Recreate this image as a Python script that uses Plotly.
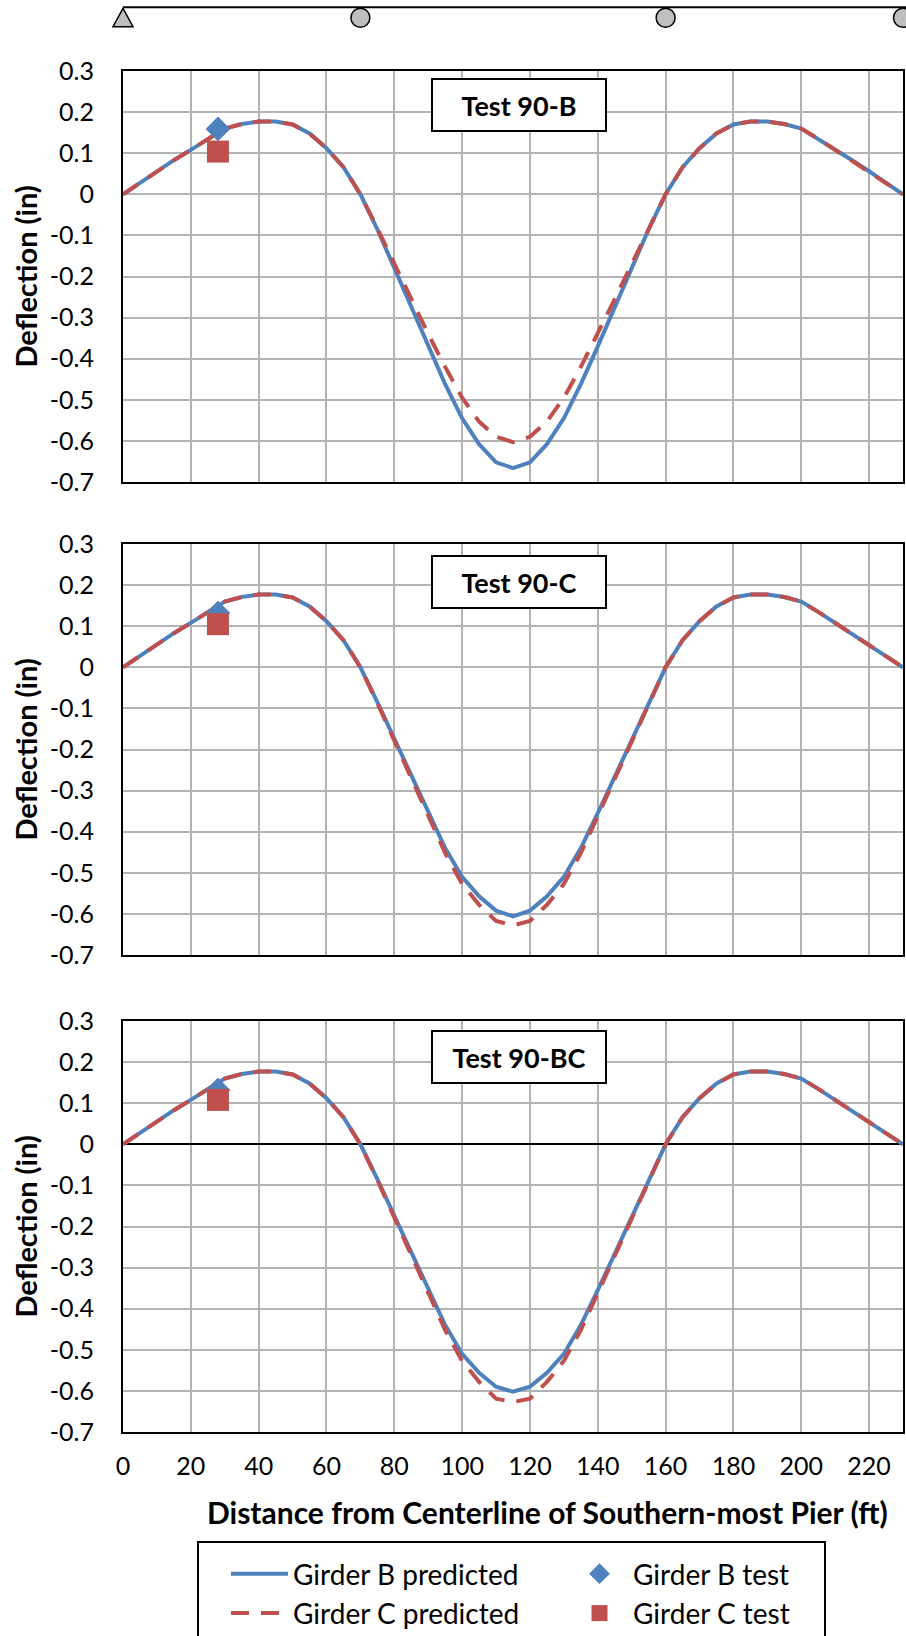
import plotly.graph_objects as go

# ---------------- data ----------------
distance_ft = [0, 5, 10, 15, 20, 25, 30, 35, 40, 45, 50, 55, 60, 65, 70,
               75, 80, 85, 90, 95, 100, 105, 110, 115, 120, 125, 130, 135, 140, 145, 150, 155,
               160, 165, 170, 175, 180, 185, 190, 195, 200, 205, 210, 215, 220, 225, 230]

girder_b_pred_90B = [0, 0.028, 0.056, 0.083, 0.108, 0.135, 0.160, 0.171, 0.177, 0.177, 0.170, 0.148, 0.112, 0.066, 0,
                     -0.085, -0.18, -0.275, -0.37, -0.462, -0.545, -0.608, -0.652, -0.666, -0.652, -0.608, -0.545, -0.462, -0.37, -0.275, -0.18, -0.085,
                     0, 0.066, 0.112, 0.148, 0.170, 0.177, 0.177, 0.171, 0.160, 0.135, 0.108, 0.083, 0.056, 0.028, 0]
girder_c_pred_90B = [0, 0.028, 0.056, 0.083, 0.108, 0.135, 0.160, 0.171, 0.177, 0.177, 0.170, 0.148, 0.112, 0.066, 0,
                     -0.083, -0.17, -0.255, -0.34, -0.42, -0.495, -0.553, -0.59, -0.603, -0.59, -0.553, -0.495, -0.42, -0.34, -0.255, -0.17, -0.083,
                     0, 0.066, 0.112, 0.148, 0.170, 0.177, 0.177, 0.171, 0.160, 0.135, 0.108, 0.083, 0.056, 0.028, 0]

girder_b_pred_90C = [0, 0.028, 0.056, 0.083, 0.108, 0.135, 0.160, 0.171, 0.177, 0.177, 0.170, 0.148, 0.112, 0.066, 0,
                     -0.085, -0.175, -0.265, -0.355, -0.44, -0.51, -0.557, -0.592, -0.606, -0.592, -0.557, -0.51, -0.44, -0.355, -0.265, -0.175, -0.085,
                     0, 0.066, 0.112, 0.148, 0.170, 0.177, 0.177, 0.171, 0.160, 0.135, 0.108, 0.083, 0.056, 0.028, 0]
girder_c_pred_90C = [0, 0.028, 0.056, 0.083, 0.108, 0.135, 0.160, 0.171, 0.177, 0.177, 0.170, 0.148, 0.112, 0.066, 0,
                     -0.087, -0.178, -0.27, -0.362, -0.452, -0.527, -0.578, -0.617, -0.628, -0.617, -0.578, -0.527, -0.452, -0.362, -0.27, -0.178, -0.087,
                     0, 0.066, 0.112, 0.148, 0.170, 0.177, 0.177, 0.171, 0.160, 0.135, 0.108, 0.083, 0.056, 0.028, 0]

girder_b_pred_90BC = [0, 0.028, 0.056, 0.083, 0.108, 0.135, 0.160, 0.171, 0.177, 0.177, 0.170, 0.148, 0.112, 0.066, 0,
                      -0.085, -0.175, -0.265, -0.355, -0.44, -0.51, -0.556, -0.59, -0.602, -0.59, -0.556, -0.51, -0.44, -0.355, -0.265, -0.175, -0.085,
                      0, 0.066, 0.112, 0.148, 0.170, 0.177, 0.177, 0.171, 0.160, 0.135, 0.108, 0.083, 0.056, 0.028, 0]
girder_c_pred_90BC = [0, 0.028, 0.056, 0.083, 0.108, 0.135, 0.160, 0.171, 0.177, 0.177, 0.170, 0.148, 0.112, 0.066, 0,
                      -0.087, -0.178, -0.27, -0.362, -0.452, -0.527, -0.578, -0.619, -0.627, -0.619, -0.578, -0.527, -0.452, -0.362, -0.27, -0.178, -0.087,
                      0, 0.066, 0.112, 0.148, 0.170, 0.177, 0.177, 0.171, 0.160, 0.135, 0.108, 0.083, 0.056, 0.028, 0]

test_distance_ft = [28]
girder_b_test_90B = [0.159]
girder_c_test_90B = [0.104]
girder_b_test_90C = [0.132]
girder_c_test_90C = [0.105]
girder_b_test_90BC = [0.132]
girder_c_test_90BC = [0.108]

panel_titles = ["Test 90-B", "Test 90-C", "Test 90-BC"]
y_tick_values = [0.3, 0.2, 0.1, 0, -0.1, -0.2, -0.3, -0.4, -0.5, -0.6, -0.7]
y_tick_labels = ["0.3", "0.2", "0.1", "0", "-0.1", "-0.2", "-0.3", "-0.4", "-0.5", "-0.6", "-0.7"]
x_tick_values = [0, 20, 40, 60, 80, 100, 120, 140, 160, 180, 200, 220]
x_tick_labels = ["0", "20", "40", "60", "80", "100", "120", "140", "160", "180", "200", "220"]
supports_ft = [0, 70, 160, 230]
support_types = ["pin", "roller", "roller", "roller"]

# ---------------- layout constants ----------------
W, H = 906, 1636
L, R = 123, 3
PW = W - L - R
X_MIN, X_MAX = 0, 230
BLUE = "#4F81BD"
RED = "#C0504D"
GRID = "#B3B3B3"
FONT = "Lato"

def py(px):
    return 1 - px / H

def px_x(px):
    return (px - L) / PW

panels = [
    (girder_b_pred_90B, girder_c_pred_90B, girder_b_test_90B, girder_c_test_90B, (71, 482), 0.9165, False),
    (girder_b_pred_90C, girder_c_pred_90C, girder_b_test_90C, girder_c_test_90C, (544, 955), 0.9068, False),
    (girder_b_pred_90BC, girder_c_pred_90BC, girder_b_test_90BC, girder_c_test_90BC, (1021, 1432), 0.9117, True),
]

fig = go.Figure()
layout = dict(
    width=W, height=H,
    margin=dict(l=L, r=R, t=0, b=0, autoexpand=False),
    paper_bgcolor="white", plot_bgcolor="white",
    font=dict(family=FONT, size=25, color="black"),
    showlegend=True,
)
annotations = []
shapes = []

for i, (bp, cp, bt, ct, (top, bot), box_y, zero_black) in enumerate(panels):
    n = "" if i == 0 else str(i + 1)
    xa, ya = "x" + n, "y" + n
    show = (i == 0)
    fig.add_trace(go.Scatter(x=distance_ft, y=bp, mode="lines", name="Girder B predicted",
                             line=dict(color=BLUE, width=4), xaxis=xa, yaxis=ya,
                             showlegend=show, legendrank=1))
    fig.add_trace(go.Scatter(x=distance_ft, y=cp, mode="lines", name="Girder C predicted",
                             line=dict(color=RED, width=4, dash="18px,12px"), xaxis=xa, yaxis=ya,
                             showlegend=show, legendrank=3))
    fig.add_trace(go.Scatter(x=test_distance_ft, y=bt, mode="markers", name="Girder B test",
                             marker=dict(symbol="diamond", size=19, color=BLUE), xaxis=xa, yaxis=ya,
                             showlegend=show, legendrank=2))
    fig.add_trace(go.Scatter(x=test_distance_ft, y=ct, mode="markers", name="Girder C test",
                             marker=dict(symbol="square", size=22, color=RED), xaxis=xa, yaxis=ya,
                             showlegend=show, legendrank=4))

    layout["xaxis" + n] = dict(
        domain=[0, 1], range=[X_MIN, X_MAX], anchor=ya,
        tickvals=x_tick_values, ticktext=x_tick_labels, showticklabels=(i == 2),
        ticks="", ticklabelstandoff=11,
        showgrid=True, gridcolor=GRID, gridwidth=2, zeroline=False,
        showline=True, linecolor="black", linewidth=2, mirror=True,
        tickfont=dict(size=25, family=FONT),
    )
    layout["yaxis" + n] = dict(
        domain=[py(bot), py(top)], range=[-0.7, 0.3], anchor=xa,
        tickvals=y_tick_values, ticktext=y_tick_labels,
        ticks="", ticklabelstandoff=22,
        showgrid=True, gridcolor=GRID, gridwidth=2,
        zeroline=zero_black, zerolinecolor="black", zerolinewidth=2,
        showline=True, linecolor="black", linewidth=2, mirror=True,
        tickfont=dict(size=25, family=FONT),
    )
    annotations.append(dict(
        text="<b>" + panel_titles[i] + "</b>", xref=xa + " domain", yref=ya + " domain",
        x=0.5073, y=box_y, xanchor="center", yanchor="middle", showarrow=False,
        width=168, height=46, borderpad=2, borderwidth=2, bordercolor="black", bgcolor="white",
        font=dict(size=27, family=FONT, color="black"),
    ))
    annotations.append(dict(
        text="<b>Deflection (in)</b>", xref="paper", yref=ya + " domain",
        x=px_x(25), y=0.5, xanchor="center", yanchor="middle", textangle=-90, showarrow=False,
        font=dict(size=29, family=FONT, color="black"),
    ))

annotations.append(dict(
    text="<b>Distance from Centerline of Southern-most Pier (ft)</b>", xref="paper", yref="paper",
    x=px_x(547), y=py(1512), xanchor="center", yanchor="middle", showarrow=False,
    font=dict(size=30, family=FONT, color="black"),
))

# support diagram across the top (positions follow the distance scale)
shapes.append(dict(type="line", xref="paper", yref="paper", x0=0, x1=1.01,
                   y0=py(7.3), y1=py(7.3), line=dict(color="black", width=2)))
for s, kind in zip(supports_ft, support_types):
    xp = (s - X_MIN) / (X_MAX - X_MIN)
    if kind == "pin":
        shapes.append(dict(type="path", xref="paper", yref="paper", xsizemode="pixel", ysizemode="pixel",
                           xanchor=xp, yanchor=py(17.5), path="M-10,-9.2 L10,-9.2 L0,9.2 Z",
                           fillcolor="#BFBFBF", line=dict(color="black", width=1.5)))
    else:
        shapes.append(dict(type="circle", xref="paper", yref="paper", xsizemode="pixel", ysizemode="pixel",
                           xanchor=xp, yanchor=py(17.8), x0=-9.5, x1=9.5, y0=-9.5, y1=9.5,
                           fillcolor="#BFBFBF", line=dict(color="black", width=1.5)))

# legend frame
shapes.append(dict(type="rect", xref="paper", yref="paper", x0=px_x(198), x1=px_x(825),
                   y0=py(1542), y1=-0.02, line=dict(color="black", width=2), fillcolor="rgba(0,0,0,0)"))

layout["annotations"] = annotations
layout["shapes"] = shapes
layout["legend"] = dict(
    orientation="h", x=px_x(226), y=py(1549), xanchor="left", yanchor="top",
    bgcolor="rgba(0,0,0,0)", borderwidth=0,
    entrywidth=268, entrywidthmode="pixels", itemwidth=57,
    font=dict(size=28, family=FONT, color="black"),
    traceorder="normal",
)
fig.update_layout(**layout)
fig.write_html("out.html")
